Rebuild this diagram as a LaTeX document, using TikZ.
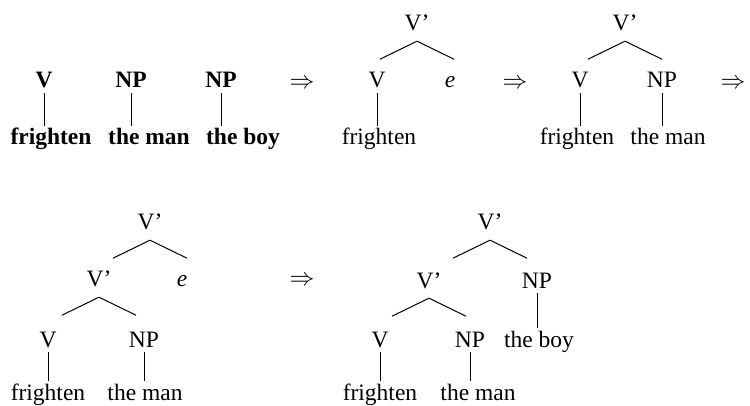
\documentclass[tikz,border=0pt]{standalone}
\usepackage{fontspec}
\setmainfont{Liberation Serif}
\tikzset{
  lab/.style={inner xsep=0pt, inner ysep=2pt, text height=17pt, text depth=3pt, anchor=base,
    font=\fontsize{23.5}{28}\selectfont},
  blab/.style={lab, font=\fontsize{23.5}{28}\selectfont\bfseries},
  arr/.style={inner sep=0pt, anchor=center, font=\fontsize{23.5}{28}\selectfont},
  ln/.style={line width=1pt, line cap=butt},
}
% branch from parent #1 (apex) to child #2, fixed shape; #3 = -1 left, 1 right
\newcommand{\br}[3]{\draw[ln] ([yshift=-5pt]#1.south) -- ([xshift=#3*37pt,yshift=-23pt]#1.south);}
\newcommand{\vl}[2]{\draw[ln] (#1.south) -- (#1.south |- #2.north);}
\begin{document}
\begin{tikzpicture}[x=1pt,y=-1pt]
\useasboundingbox (0,0) rectangle (750,406);
% row 1, structure 1 (bold)
\node[blab] (aV) at (44,88) {V};
\node[blab] (aNP1) at (131,88) {NP};
\node[blab] (aNP2) at (221,88) {NP};
\node[blab] (aw1) at (51,145) {frighten};
\node[blab] (aw2) at (149,145) {the man};
\node[blab] (aw3) at (243,145) {the boy};
\vl{aV}{aw1} \vl{aNP1}{aw2} \vl{aNP2}{aw3}
\node[arr] (r1) at (302,84) {$\Rightarrow$};
% tree 2
\node[lab] (bT) at (417,31) {V’};
\node[lab] (bV) at (377,88) {V};
\node[lab] (bE) at (450,88) {\itshape e};
\node[lab] (bw1) at (379,145) {frighten};
\br{bT}{bV}{-1} \br{bT}{bE}{1}
\vl{bV}{bw1}
\node[arr] (r2) at (515,84) {$\Rightarrow$};
% tree 3
\node[lab] (cT) at (625,31) {V’};
\node[lab] (cV) at (580,88) {V};
\node[lab] (cNP) at (662,88) {NP};
\node[lab] (cw1) at (577,145) {frighten};
\node[lab] (cw2) at (668,145) {the man};
\br{cT}{cV}{-1} \br{cT}{cNP}{1}
\vl{cV}{cw1} \vl{cNP}{cw2}
\node[arr] (r3) at (733,84) {$\Rightarrow$};
% tree 4
\node[lab] (dT) at (150,230) {V’};
\node[lab] (dM) at (99,287) {V’};
\node[lab] (dE) at (182,287) {\itshape e};
\node[lab] (dV) at (48,347) {V};
\node[lab] (dNP) at (144,347) {NP};
\node[lab] (dw1) at (48,400) {frighten};
\node[lab] (dw2) at (145,400) {the man};
\br{dT}{dM}{-1} \br{dT}{dE}{1}
\br{dM}{dV}{-1} \br{dM}{dNP}{1}
\vl{dV}{dw1} \vl{dNP}{dw2}
\node[arr] (r4) at (302,281) {$\Rightarrow$};
% tree 5
\node[lab] (eT) at (490,230) {V’};
\node[lab] (eM) at (429,288) {V’};
\node[lab] (eNP) at (537,288) {NP};
\node[lab] (eV) at (380,347) {V};
\node[lab] (eNP2) at (470,347) {NP};
\node[lab] (eB) at (539,347) {the boy};
\node[lab] (ew1) at (380,400) {frighten};
\node[lab] (ew2) at (478,400) {the man};
\br{eT}{eM}{-1} \br{eT}{eNP}{1}
\br{eM}{eV}{-1} \br{eM}{eNP2}{1}
\vl{eNP}{eB}
\vl{eV}{ew1} \vl{eNP2}{ew2}
\end{tikzpicture}
\end{document}
